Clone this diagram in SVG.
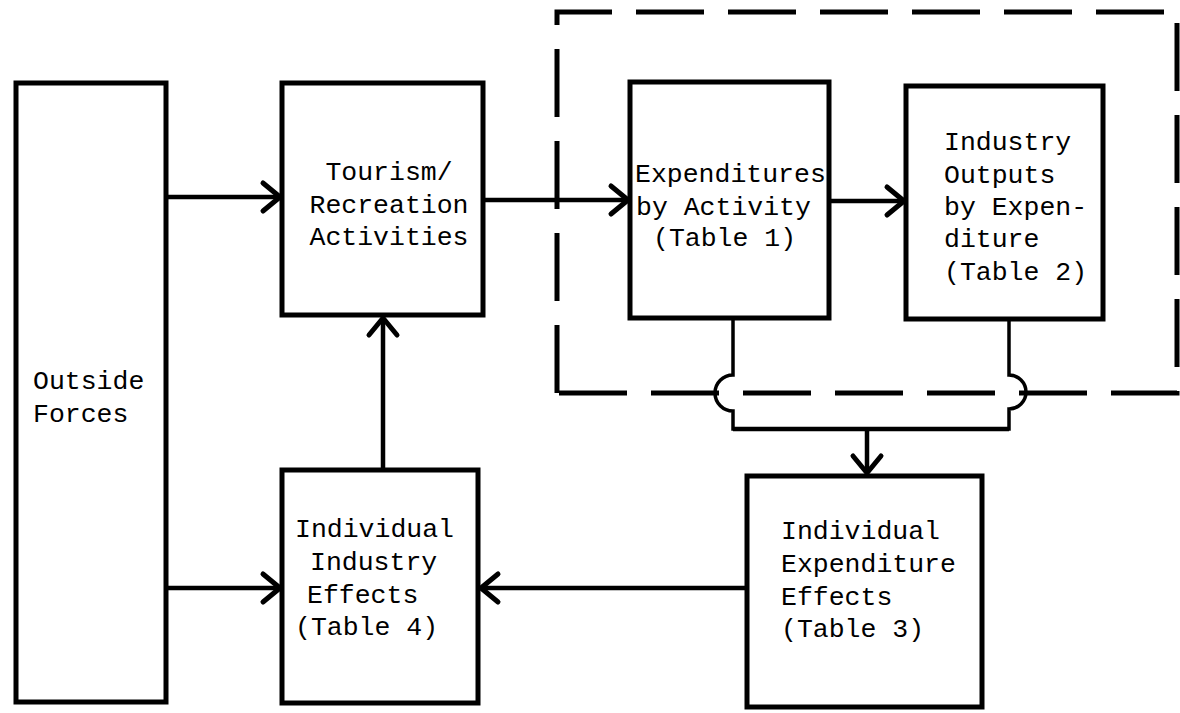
<svg xmlns="http://www.w3.org/2000/svg" width="1180" height="713" viewBox="0 0 1180 713">
<style>
.box{fill:#fff;stroke:#000;stroke-width:5;stroke-linejoin:miter}
.lbl{font-family:"Liberation Mono","Courier New",monospace;font-size:26.5px;fill:#000}
.c{fill:none;stroke:#000;stroke-width:4.5}
.thin{fill:none;stroke:#000;stroke-width:3.5}
.dash{fill:none;stroke:#000;stroke-width:5;stroke-dasharray:68 24}
</style>
<defs>
<marker id="arr" markerUnits="userSpaceOnUse" viewBox="-24 -18 28 36" markerWidth="28" markerHeight="36" refX="0" refY="0" orient="auto" overflow="visible">
<path d="M-17,-14 L0,0 L-17,14" fill="none" stroke="#000" stroke-width="5" stroke-linecap="round" stroke-linejoin="round"/>
</marker>
</defs>
<rect width="1180" height="713" fill="#fff"/>
<g id="boundary">
<path class="dash" d="M557,393 V12 H1177 V393 Z"/>
</g>
<g id="outside-forces">
<rect class="box" x="16" y="83" width="150" height="619"/>
<text class="lbl" x="33" y="389">Outside</text>
<text class="lbl" x="33" y="422">Forces</text>
</g>
<g id="tourism">
<rect class="box" x="282" y="83" width="201" height="232"/>
<text class="lbl" x="389" y="180" text-anchor="middle">Tourism/</text>
<text class="lbl" x="389" y="213" text-anchor="middle">Recreation</text>
<text class="lbl" x="389" y="245" text-anchor="middle">Activities</text>
</g>
<g id="expenditures">
<rect class="box" x="630" y="82" width="199" height="236"/>
<text class="lbl" x="635" y="182">Expenditures</text>
<text class="lbl" x="636" y="215">by Activity</text>
<text class="lbl" x="653" y="246">(Table 1)</text>
</g>
<g id="industry-outputs">
<rect class="box" x="906" y="86" width="197" height="233"/>
<text class="lbl" x="944" y="150">Industry</text>
<text class="lbl" x="944" y="183">Outputs</text>
<text class="lbl" x="944" y="215">by Expen-</text>
<text class="lbl" x="944" y="247">diture</text>
<text class="lbl" x="944" y="280">(Table 2)</text>
</g>
<g id="industry-effects">
<rect class="box" x="282" y="470" width="196" height="233"/>
<text class="lbl" x="295" y="537">Individual</text>
<text class="lbl" x="310" y="570">Industry</text>
<text class="lbl" x="307" y="603">Effects</text>
<text class="lbl" x="295" y="635">(Table 4)</text>
</g>
<g id="expenditure-effects">
<rect class="box" x="747" y="476" width="235" height="231"/>
<text class="lbl" x="781" y="539">Individual</text>
<text class="lbl" x="781" y="572">Expenditure</text>
<text class="lbl" x="781" y="605">Effects</text>
<text class="lbl" x="781" y="637">(Table 3)</text>
</g>
<g id="connectors">
<path class="c" d="M167,197 H280" marker-end="url(#arr)"/>
<path class="c" d="M167,588 H280" marker-end="url(#arr)"/>
<path class="c" d="M484,200 H628" marker-end="url(#arr)"/>
<path class="c" d="M830,201 H904" marker-end="url(#arr)"/>
<path class="c" d="M383,468 V318" marker-end="url(#arr)"/>
<path class="c" d="M745,588 H481" marker-end="url(#arr)"/>
<path class="thin" d="M733,320 V375 A18,18 0 0 0 733,411 V429 H1009 V409 A17,17 0 0 0 1009,375 V321"/>
<path class="c" d="M733,429 H1009"/>
<path class="c" d="M867,429 V473" marker-end="url(#arr)"/>
</g>
</svg>
